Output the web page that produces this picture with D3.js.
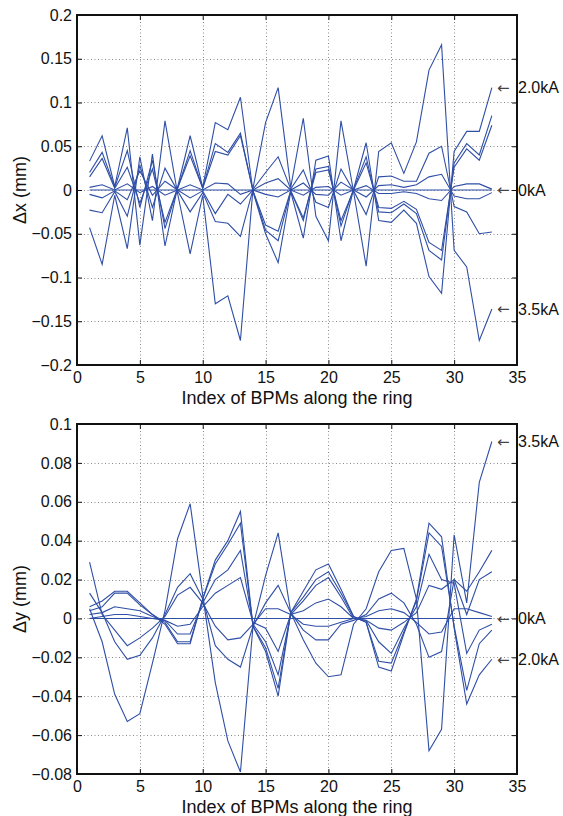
<!DOCTYPE html>
<html>
<head>
<meta charset="utf-8">
<script src="https://cdn.jsdelivr.net/npm/d3@7"></script>
<style>
  body { margin: 0; background: #fff; }
  text { font-family: "Liberation Sans", Arial, Helvetica, sans-serif; fill: #111; }
</style>
</head>
<body>
<div class="orbitPlot"></div>
<script>

// BPM index along the ring
var bpm = [1,2,3,4,5,6,7,8,9,10,11,12,13,14,15,16,17,18,19,20,21,22,23,24,25,26,27,28,29,30,31,32,33];

// horizontal orbit difference (mm), one array per current setting
var dx_0kA  = [0,0,0,0,0,0,0,0,0,0,0,0,0,0,0,0,0,0,0,0,0,0,0,0,0,0,0,0,0,0,0,0,0];
var dx_2kA  = [0.033,0.062,0.004,0.071,-0.063,0.041,-0.064,0.003,0.062,0.003,0.077,0.069,0.106,-0.002,-0.050,-0.083,-0.002,-0.055,0.034,0.039,-0.058,0.001,0.054,-0.035,-0.037,-0.023,-0.038,-0.099,-0.118,0.044,0.067,0.067,0.117];
var dx_b    = [0.020,0.043,0.003,0.045,-0.020,0.034,-0.044,0.002,0.045,0.002,0.053,0.043,0.065,-0.001,-0.046,-0.058,-0.001,-0.035,0.024,0.027,-0.041,0.001,0.038,-0.025,-0.026,-0.016,-0.027,-0.069,-0.080,0.031,0.053,0.040,0.085];
var dx_c    = [0.015,0.036,0.002,0.026,-0.015,0.024,-0.037,0.002,0.039,0.002,0.044,0.040,0.062,-0.001,-0.040,-0.047,-0.001,-0.032,0.020,0.023,-0.035,0.000,0.031,-0.020,-0.021,-0.013,-0.022,-0.060,-0.069,0.026,0.047,0.034,0.074];
var dx_d    = [0.003,0.006,0.000,0.007,-0.003,0.004,-0.006,0.000,0.006,0.000,0.008,0.007,-0.005,0.000,-0.005,-0.008,0.000,-0.006,0.003,0.004,-0.006,0.000,0.005,-0.004,-0.004,-0.002,-0.004,-0.010,-0.012,0.004,0.007,0.007,0.001];
var dx_g    = [-0.005,-0.009,-0.001,-0.011,0.022,-0.006,0.010,0.000,-0.009,-0.001,-0.027,-0.005,-0.016,0.000,0.008,0.013,0.000,0.008,-0.005,-0.006,0.009,0.000,-0.008,0.005,0.006,0.003,0.006,0.015,0.018,-0.007,-0.010,-0.010,-0.003];
var dx_f    = [-0.023,-0.026,-0.002,-0.030,0.028,-0.020,0.025,-0.001,-0.025,-0.003,-0.036,-0.038,-0.053,0.001,0.020,0.038,0.001,0.023,-0.014,-0.020,0.024,-0.001,-0.028,0.015,0.016,0.010,0.010,0.042,0.050,-0.019,-0.025,-0.050,-0.048];
var dx_35kA = [-0.043,-0.085,-0.006,-0.067,0.038,-0.035,0.079,-0.004,-0.073,-0.006,-0.130,-0.121,-0.172,0.002,0.077,0.117,0.003,0.082,-0.030,-0.058,0.079,-0.002,-0.087,0.044,0.054,0.019,0.055,0.137,0.166,-0.069,-0.088,-0.172,-0.136];

// vertical orbit difference (mm)
var dy_0kA  = [0,0,0,0,0,0,0,0,0,0,0,0,0,0,0,0,0,0,0,0,0,0,0,0,0,0,0,0,0,0,0,0,0];
var dy_2kA  = [0.006,0.009,0.014,0.014,0.008,0.002,-0.003,-0.013,-0.013,0.010,0.030,0.040,0.055,-0.004,-0.017,-0.040,0.003,0.014,0.025,0.028,0.015,0.001,-0.002,-0.025,-0.027,-0.008,0.010,0.049,0.042,-0.005,-0.044,-0.029,-0.021];
var dy_b    = [0.004,0.006,0.013,0.013,0.007,0.002,-0.002,-0.012,-0.012,0.010,0.028,0.038,0.049,-0.004,-0.015,-0.036,0.003,0.011,0.020,0.024,0.013,0.001,-0.002,-0.022,-0.023,-0.007,0.009,0.044,0.037,-0.004,-0.037,-0.013,-0.006];
var dy_c    = [0.002,0.003,0.006,0.005,0.004,0.001,-0.001,-0.008,-0.008,0.008,0.020,0.025,0.035,-0.003,-0.012,-0.029,0.002,0.009,0.017,0.021,0.011,0.000,-0.001,-0.012,-0.018,-0.005,0.006,0.033,0.020,0.018,-0.018,-0.006,-0.003];
var dy_d    = [0.000,0.001,0.002,0.002,0.001,0.000,-0.001,-0.004,-0.003,0.006,0.013,0.017,0.021,-0.002,-0.005,-0.017,0.002,0.004,0.008,0.010,0.006,0.000,-0.001,-0.005,-0.006,-0.002,0.003,0.017,0.015,0.020,0.002,0.020,0.024];
var dy_g    = [0.029,0.002,-0.006,-0.014,-0.010,-0.005,0.001,0.012,0.016,0.008,-0.004,-0.011,-0.010,-0.003,0.005,0.005,0.002,-0.003,-0.004,-0.004,-0.002,0.000,0.001,0.004,0.005,0.003,-0.002,-0.008,-0.007,0.005,0.005,0.003,0.001];
var dy_f    = [0.013,0.003,-0.012,-0.021,-0.019,-0.010,0.002,0.016,0.023,0.010,-0.014,-0.021,-0.025,-0.004,0.008,0.017,0.003,-0.006,-0.011,-0.011,-0.003,-0.001,0.002,0.010,0.013,0.008,-0.003,-0.020,-0.017,0.020,0.014,0.024,0.035];
var dy_35kA = [0.005,-0.012,-0.039,-0.053,-0.049,-0.023,0.004,0.041,0.059,0.012,-0.033,-0.063,-0.079,-0.004,0.022,0.044,0.003,-0.011,-0.023,-0.030,-0.029,-0.003,0.005,0.024,0.035,0.036,0.010,-0.068,-0.057,0.043,0.008,0.070,0.091];

var xTicks = [0,5,10,15,20,25,30,35];
var dxTicks = [-0.2,-0.15,-0.1,-0.05,0,0.05,0.1,0.15,0.2];
var dyTicks = [-0.08,-0.06,-0.04,-0.02,0,0.02,0.04,0.06,0.08,0.1];

var topLabels = [{ text: "2.0kA", value: dx_2kA[32] }, { text: "0kA", value: 0 }, { text: "3.5kA", value: dx_35kA[32] }];
var bottomLabels = [{ text: "3.5kA", value: dy_35kA[32] }, { text: "0kA", value: 0 }, { text: "2.0kA", value: dy_2kA[32] }];

var lineColor = "#2f4ea6";

var svg = d3.select(".orbitPlot")
  .append("svg")
  .attr("width", 563)
  .attr("height", 816);

function drawPanel(opt) {

  var margin = { left: 77, top: opt.top },
      width = 440,
      height = 350;

  var g = svg.append("g")
    .attr("transform", "translate(" + margin.left + "," + margin.top + ")");

  var x = d3.scaleLinear().domain([0, 35]).range([0, width]);
  var y = d3.scaleLinear().domain(opt.domain).range([height, 0]);

  // dotted grid
  var grid = g.append("g")
    .attr("stroke", "#8a8a8a")
    .attr("stroke-width", 1)
    .attr("stroke-dasharray", "1,2.5");

  grid.selectAll("line.vx")
    .data(xTicks.slice(1, -1))
    .join("line")
    .attr("x1", d => Math.round(x(d)) + 0.5)
    .attr("x2", d => Math.round(x(d)) + 0.5)
    .attr("y1", 0)
    .attr("y2", height);

  grid.selectAll("line.hy")
    .data(opt.yTicks.slice(1, -1))
    .join("line")
    .attr("y1", d => Math.round(y(d)) + 0.5)
    .attr("y2", d => Math.round(y(d)) + 0.5)
    .attr("x1", 0)
    .attr("x2", width);

  // data lines
  var line = d3.line()
    .x((d, i) => x(bpm[i]))
    .y(d => y(d));

  g.append("g")
    .selectAll("path")
    .data(opt.series)
    .join("path")
    .attr("d", d => line(d))
    .attr("fill", "none")
    .attr("stroke", lineColor)
    .attr("stroke-width", 1.1);

  // axes with inward ticks on all four sides
  var fmt = d3.format("~g");

  g.append("g")
    .attr("transform", "translate(0," + height + ")")
    .call(d3.axisBottom(x).tickValues(xTicks).tickSizeInner(-5).tickSizeOuter(0).tickPadding(7).tickFormat(fmt));

  g.append("g")
    .call(d3.axisTop(x).tickValues(xTicks).tickSizeInner(-5).tickSizeOuter(0).tickFormat(""));

  g.append("g")
    .call(d3.axisLeft(y).tickValues(opt.yTicks).tickSizeInner(-5).tickSizeOuter(0).tickPadding(5).tickFormat(fmt));

  g.append("g")
    .attr("transform", "translate(" + width + ",0)")
    .call(d3.axisRight(y).tickValues(opt.yTicks).tickSizeInner(-5).tickSizeOuter(0).tickFormat(""));

  g.selectAll(".domain").remove();
  g.selectAll(".tick line").attr("stroke", "#111").attr("stroke-width", 1);
  g.selectAll(".tick text")
    .style("font-size", "16px")
    .style("font-family", "'Liberation Sans', Arial, sans-serif")
    .attr("fill", "#111");

  g.append("rect")
    .attr("x", 0)
    .attr("y", 0)
    .attr("width", width)
    .attr("height", height)
    .attr("fill", "none")
    .attr("stroke", "#111")
    .attr("stroke-width", 2);

  // axis titles
  g.append("text")
    .attr("x", width / 2)
    .attr("y", height + 38.5)
    .attr("text-anchor", "middle")
    .style("font-size", "18px")
    .text("Index of BPMs along the ring");

  g.append("text")
    .attr("transform", "translate(" + (-51) + "," + (height / 2) + ") rotate(-90)")
    .attr("text-anchor", "middle")
    .style("font-size", "18px")
    .text(opt.ylabel);

  // current annotations at the right end
  var ann = g.append("g").selectAll("g")
    .data(opt.labels)
    .join("g")
    .attr("transform", d => "translate(" + width + "," + y(d.value) + ")");

  ann.append("text")
    .attr("x", -20)
    .attr("dy", "0.35em")
    .style("font-family", "'DejaVu Sans', sans-serif")
    .style("font-size", "15px")
    .style("fill", "#444")
    .text("\u2190");

  ann.append("text")
    .attr("x", 1)
    .attr("dy", "0.36em")
    .style("font-size", "16px")
    .text(d => d.text);
}

drawPanel({
  top: 15,
  domain: [-0.2, 0.2],
  yTicks: dxTicks,
  ylabel: "\u0394x (mm)",
  series: [dx_0kA, dx_2kA, dx_b, dx_c, dx_d, dx_g, dx_f, dx_35kA],
  labels: topLabels
});

drawPanel({
  top: 424,
  domain: [-0.08, 0.1],
  yTicks: dyTicks,
  ylabel: "\u0394y (mm)",
  series: [dy_0kA, dy_2kA, dy_b, dy_c, dy_d, dy_g, dy_f, dy_35kA],
  labels: bottomLabels
});

</script>
</body>
</html>
